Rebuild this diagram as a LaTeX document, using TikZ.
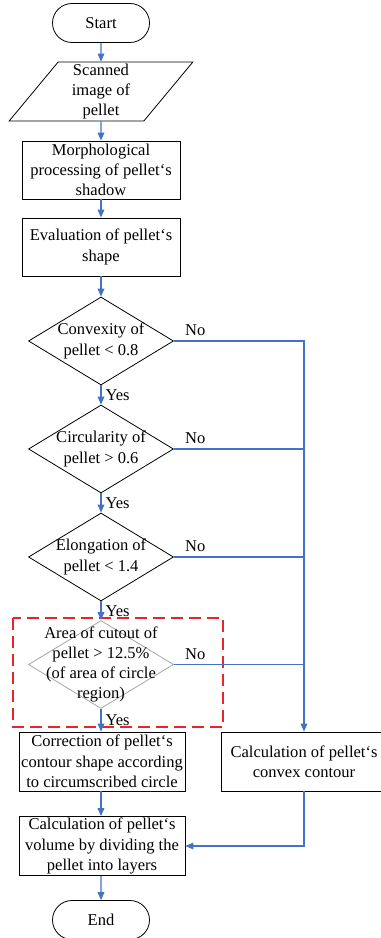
\documentclass[tikz,border=0pt]{standalone}
\usepackage{fontspec}
\setmainfont{Liberation Serif}
\usetikzlibrary{arrows.meta,shapes.geometric,shapes.misc}
\definecolor{flowblue}{HTML}{4472C4}
\definecolor{markred}{HTML}{E8252B}
\definecolor{softgray}{HTML}{A6A6A6}
\newcommand{\fcfont}{\fontsize{12.4}{15.2}\selectfont}
\tikzset{
  term/.style={rounded rectangle, draw=black, line width=0.6pt, minimum width=72.75pt, minimum height=29.25pt, inner sep=0pt, font=\fcfont},
  iobox/.style={trapezium, trapezium left angle=59, trapezium right angle=121, trapezium stretches=true, draw=black, line width=0.6pt, minimum width=138.75pt, minimum height=44.25pt, inner sep=0pt, align=center, font=\fcfont},
  proc/.style={rectangle, draw=black, line width=0.6pt, minimum width=118.5pt, minimum height=43.5pt, inner sep=0pt, align=center, font=\fcfont},
  procw/.style={proc, minimum width=124.5pt, minimum height=44.25pt},
  dec/.style={diamond, draw=black, line width=0.6pt, minimum width=108.75pt, minimum height=66pt, inner sep=0pt},
  decsoft/.style={dec, draw=softgray},
  dtxt/.style={inner sep=0pt, align=center, font=\fcfont},
  flow/.style={-{Triangle[length=6pt,width=5pt]}, draw=flowblue, line width=0.9pt},
  flowline/.style={draw=flowblue, line width=0.8pt},
  yeslbl/.style={font=\fcfont, anchor=west, inner sep=0pt, xshift=3pt},
  nolbl/.style={font=\fcfont, anchor=base west, inner sep=0pt, xshift=8pt, yshift=4pt},
  markbox/.style={draw=markred, line width=2.2pt, dash pattern=on 9pt off 4.5pt},
}
\begin{document}
\begin{tikzpicture}[x=0.75pt,y=-0.75pt]
  \useasboundingbox (0,0) rectangle (381,938);
  % main column
  \node[term] (start) at (101,23) {Start};
  \node[iobox] (scan) at (101,91.5) {Scanned\\image of\\pellet};
  \node[proc] (morph) at (101,170) {Morphological\\processing of pellet‘s\\shadow};
  \node[proc] (eval) at (101,247) {Evaluation of pellet‘s\\shape};
  % decisions
  \node[dec] (d1) at (101,341) {};
  \node[dtxt] (d1t) at (d1) {Convexity of\\pellet < 0.8};
  \node[dec] (d2) at (101,449) {};
  \node[dtxt] (d2t) at (d2) {Circularity of\\pellet > 0.6};
  \node[dec] (d3) at (101,557) {};
  \node[dtxt] (d3t) at (d3) {Elongation of\\pellet < 1.4};
  \node[decsoft] (d4) at (101,664.5) {};
  \node[dtxt] (d4t) at (d4) {Area of cutout of\\pellet > 12.5\%\\(of area of circle\\region)};
  % results
  \node[procw] (corr) at (102,761.5) {Correction of pellet‘s\\contour shape according\\to circumscribed circle};
  \node[procw] (conv) at (304,761.5) {Calculation of pellet‘s\\convex contour};
  \node[procw] (vol) at (102,846) {Calculation of pellet‘s\\volume by dividing the\\pellet into layers};
  \node[term] (end) at (101,920) {End};
  % highlight
  \draw[markbox] (13,618) rectangle (223,727);
  % connectors
  \draw[flow] (start) -- (scan);
  \draw[flow] (scan) -- (morph);
  \draw[flow] (morph) -- (eval);
  \draw[flow] (eval) -- (d1);
  \draw[flow] (d1) -- node[yeslbl]{Yes} (d2);
  \draw[flow] (d2) -- node[yeslbl]{Yes} (d3);
  \draw[flow] (d3) -- node[yeslbl]{Yes} (d4);
  \draw[flow] (d4) -- node[yeslbl]{Yes} (corr.north -| d4);
  \draw[flow] (d1.east) node[nolbl]{No} -| (conv.north);
  \draw[flowline] (d2.east) node[nolbl]{No} -- (d2.east -| conv.north);
  \draw[flowline] (d3.east) node[nolbl]{No} -- (d3.east -| conv.north);
  \draw[flowline] (d4.east) node[nolbl]{No} -- (d4.east -| conv.north);
  \draw[flow] (corr.south -| d4) -- (vol.north -| d4);
  \draw[flow] (conv.south) |- (vol.east);
  \draw[flow] (vol.south -| end) -- (end);
\end{tikzpicture}
\end{document}
